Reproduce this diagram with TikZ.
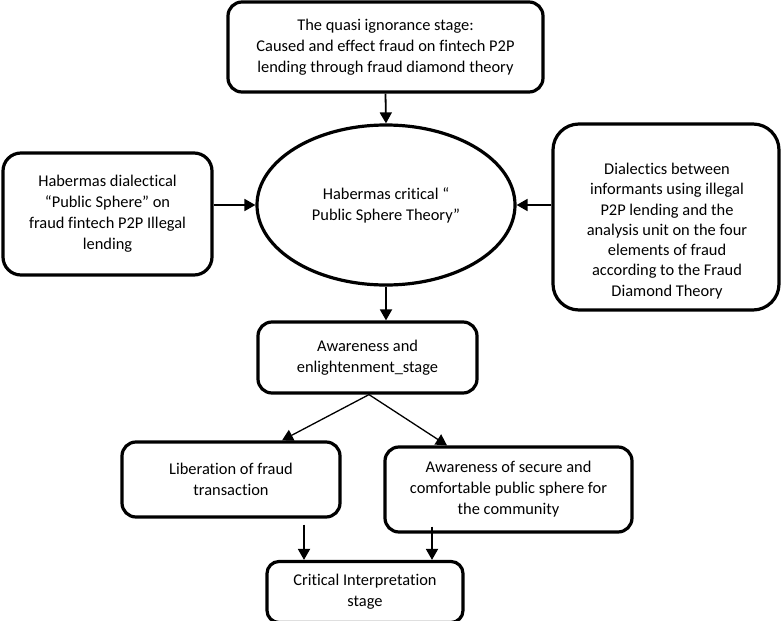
\documentclass[tikz,border=0pt]{standalone}
\usepackage{fontspec}
\setmainfont{Carlito}[Ligatures=NoCommon]
\usetikzlibrary{arrows.meta,shapes.geometric}
\begin{document}
\begin{tikzpicture}[x=1pt,y=-1pt,
  box/.style={draw,line width=3.2pt,rounded corners=14pt,align=center,inner sep=0pt,
    font=\fontsize{16.4}{21}\selectfont},
  arr/.style={line width=1.8pt,-{Triangle[length=11pt,width=12pt]}},
  darr/.style={line width=1.3pt,-{Triangle[length=11pt,width=12pt]}}]
\useasboundingbox (0,0) rectangle (782,621);
\node[box,minimum width=315pt,minimum height=90pt] (top) at (385.5,47)
  {The quasi ignorance stage:\\Caused and effect fraud on fintech P2P\\lending through fraud diamond theory};
\node[box,ellipse,rounded corners=0pt,minimum width=258pt,minimum height=160pt] (ell) at (386,205)
  {Habermas critical “\\ Public Sphere Theory”};
\node[box,rounded corners=18pt,minimum width=209pt,minimum height=122pt] (left) at (107.5,214)
  {Habermas dialectical\\“Public Sphere” on\\fraud fintech P2P Illegal\\lending};
\node[box,rounded corners=26pt,minimum width=226pt,minimum height=186pt] (right) at (666,217) {};
\node[align=center,inner sep=0pt,font=\fontsize{16.4}{20.3}\selectfont] (righttext) at (667,231)
  {Dialectics between\\informants using illegal\\P2P lending and the\\analysis unit on the four\\elements of fraud\\according to the Fraud\\Diamond Theory};
\node[box,minimum width=219pt,minimum height=71pt] (aw) at (367.5,357.5)
  {Awareness and\\enlightenment\_stage};
\node[box,minimum width=218pt,minimum height=75pt] (lib) at (231,479.5)
  {Liberation of fraud\\transaction};
\node[box,minimum width=247pt,minimum height=85pt] (sec) at (508.5,489.5)
  {Awareness of secure and\\comfortable public sphere for\\the community};
\node[box,rounded corners=12pt,minimum width=196pt,minimum height=61pt] (crit) at (365,592)
  {Critical Interpretation\\stage};
\draw[arr] (top.south) -- (ell.north);
\draw[arr] (left.east |- ell.west) -- (ell.west);
\draw[arr] (right.west |- ell.east) -- (ell.east);
\draw[arr] (ell.south) -- (ell.south |- aw.north);
\draw[darr] ([xshift=1.5pt]aw.south) -- ([xshift=51pt]lib.north);
\draw[darr] ([xshift=1.5pt]aw.south) -- ([xshift=-61.5pt]sec.north);
\coordinate (la) at ([xshift=73pt,yshift=-6pt]lib.south);
\coordinate (sa) at ([xshift=-76.5pt,yshift=7pt]sec.south);
\draw[arr] (la) -- (la |- crit.north);
\draw[arr] (sa) -- (sa |- crit.north);
\end{tikzpicture}
\end{document}
